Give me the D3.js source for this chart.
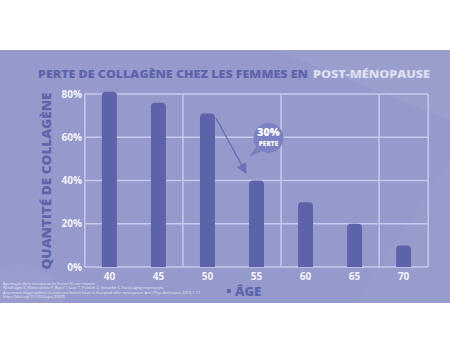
<!DOCTYPE html>
<html><head><meta charset="utf-8">
<script src="https://cdn.jsdelivr.net/npm/d3@7"></script>
<style>body{margin:0;background:#fff}svg{display:block}</style>
</head><body>
<svg id="c" width="450" height="360"></svg>
<script>
const ages = ["40","45","50","55","60","65","70"];
const collagen = [81, 76, 71, 40, 30, 20, 10];
const yTicks = [0, 20, 40, 60, 80];
const titleMain = "PERTE DE COLLAGÈNE CHEZ LES FEMMES EN";
const titleHighlight = "POST-MÉNOPAUSE";
const yTitle = "QUANTITÉ DE COLLAGÈNE";
const xTitle = "ÂGE";
const annotation = ["30%", "PERTE"];
const footnotes = [
  "Âge moyen de la ménopause en France 50 ans • Inserm",
  "Windhager S, Mitteroecker P, Rupić I, Lauc T, Polašek O, Schaefer K. Facial aging trajectories:",
  "A common shape pattern in male and female faces is disrupted after menopause. Am J Phys Anthropol. 2019; 1-11.",
  "https://doi.org/10.1002/ajpa.23878"
];

const svg = d3.select("#c");
const FONT = "'Open Sans', 'DejaVu Sans', sans-serif";
const bg = "#9599cb", barC = "#5c63a9", gridC = "#c6c9ee", dark = "#5d64ab";

// background band
svg.append("rect").attr("x",0).attr("y",50).attr("width",450).attr("height",253).attr("fill",bg);
svg.append("path").attr("d","M275,50 L450,50 L450,120 Z").attr("fill","#fff").attr("opacity",0.05);
svg.append("path").attr("d","M355,303 L450,160 L450,303 Z").attr("fill","#fff").attr("opacity",0.03);
svg.append("circle").attr("cx",20).attr("cy",310).attr("r",45).attr("fill","#fff").attr("opacity",0.04);

const x = d3.scaleBand().domain(ages).range([85, 428]).paddingInner(0.695).paddingOuter(0.345);
const y = d3.scaleLinear().domain([0, 80]).range([267, 94]);

// grid frame
const g = svg.append("g");
const step = x.step();
const vlines = [x("40") - (step - x.bandwidth())/2, (x("45")+x("50")+x.bandwidth())/2, (x("55")+x("60")+x.bandwidth())/2, (x("65")+x("70")+x.bandwidth())/2, x("70") + x.bandwidth() + (step - x.bandwidth())/2];
g.selectAll("line.h").data(yTicks).join("line").attr("class","h")
  .attr("x1", vlines[0]).attr("x2", vlines[4]).attr("y1", d=>y(d)).attr("y2", d=>y(d))
  .attr("stroke", gridC).attr("stroke-width",1.5);
g.selectAll("line.v").data(vlines).join("line").attr("class","v")
  .attr("x1", d=>d).attr("x2", d=>d).attr("y1", y(80)).attr("y2", y(0))
  .attr("stroke", gridC).attr("stroke-width",1.5);

// bars with rounded tops
const r = 4;
svg.append("g").selectAll("path").data(ages).join("path")
  .attr("fill", barC)
  .attr("d", (d,i) => {
    const x0 = x(d), w = x.bandwidth(), yt = y(collagen[i]), yb = y(0);
    return `M${x0},${yb} L${x0},${yt+r} Q${x0},${yt} ${x0+r},${yt} L${x0+w-r},${yt} Q${x0+w},${yt} ${x0+w},${yt+r} L${x0+w},${yb} Z`;
  });

// y tick labels
svg.append("g").selectAll("text").data(yTicks).join("text")
  .attr("x", 82).attr("y", d=>y(d)).attr("dy","0.35em").attr("text-anchor","end")
  .attr("font-family", FONT).attr("font-weight",700).attr("font-size",10).attr("fill","#f3f3fb")
  .text(d => d + "%");

// x tick labels
svg.append("g").selectAll("text").data(ages).join("text")
  .attr("x", d=>x(d)+x.bandwidth()/2).attr("y", 276).attr("dy","0.35em").attr("text-anchor","middle")
  .attr("font-family", FONT).attr("font-weight",700).attr("font-size",10).attr("fill","#f3f3fb")
  .text(d=>d);

// titles
svg.append("text").attr("x",38).attr("y",78).attr("font-family",FONT).attr("font-weight",800).attr("font-size",11)
  .attr("fill", dark).attr("textLength",270).attr("lengthAdjust","spacingAndGlyphs").text(titleMain);
svg.append("text").attr("x",313).attr("y",78).attr("font-family",FONT).attr("font-weight",800).attr("font-size",11)
  .attr("fill","#e6e7f6").attr("stroke","#b4b7de").attr("stroke-width",0.4)
  .attr("textLength",117).attr("lengthAdjust","spacingAndGlyphs").text(titleHighlight);

svg.append("text").attr("transform","translate(51,181) rotate(-90)").attr("text-anchor","middle")
  .attr("font-family",FONT).attr("font-weight",800).attr("font-size",13).attr("fill",dark)
  .attr("textLength",177).attr("lengthAdjust","spacingAndGlyphs").text(yTitle);

svg.append("circle").attr("cx",229).attr("cy",291).attr("r",2.2).attr("fill",dark);
svg.append("text").attr("x",235).attr("y",295.5).attr("font-family",FONT).attr("font-weight",800).attr("font-size",13)
  .attr("fill",dark).text(xTitle);

// footnotes
const fnWidths = [92, 161, 198, 62];
svg.append("g").selectAll("text").data(footnotes).join("text")
  .attr("x",3).attr("y",(d,i)=>285 + i*4.4).attr("font-family",FONT).attr("font-size",3.6).attr("fill","#e4e5f5")
  .attr("textLength",(d,i)=>fnWidths[i]).attr("lengthAdjust","spacingAndGlyphs").text(d=>d);

// annotation arrow
const ac = "#6a70b6";
svg.append("defs").append("marker").attr("id","ah").attr("viewBox","0 0 10 10").attr("refX",9).attr("refY",5)
  .attr("markerWidth",7).attr("markerHeight",7).attr("orient","auto")
  .append("path").attr("d","M0,0 L10,5 L0,10 Z").attr("fill",ac);
svg.append("line").attr("x1",216).attr("y1",118).attr("x2",246).attr("y2",173)
  .attr("stroke",ac).attr("stroke-width",1.5).attr("marker-end","url(#ah)");

// bubble
const bc = "#7b81c1";
svg.append("path").attr("d","M257,146 L249,157 L264,150 Z").attr("fill",bc);
svg.append("circle").attr("cx",268.5).attr("cy",138).attr("r",15).attr("fill",bc);
svg.append("text").attr("x",268.5).attr("y",136).attr("text-anchor","middle").attr("font-family",FONT)
  .attr("font-weight",800).attr("font-size",10.5).attr("fill","#fff").text(annotation[0]);
svg.append("text").attr("x",268.5).attr("y",146).attr("text-anchor","middle").attr("font-family",FONT)
  .attr("font-weight",800).attr("font-size",6.5).attr("fill","#fff").text(annotation[1]);
</script>
</body></html>
